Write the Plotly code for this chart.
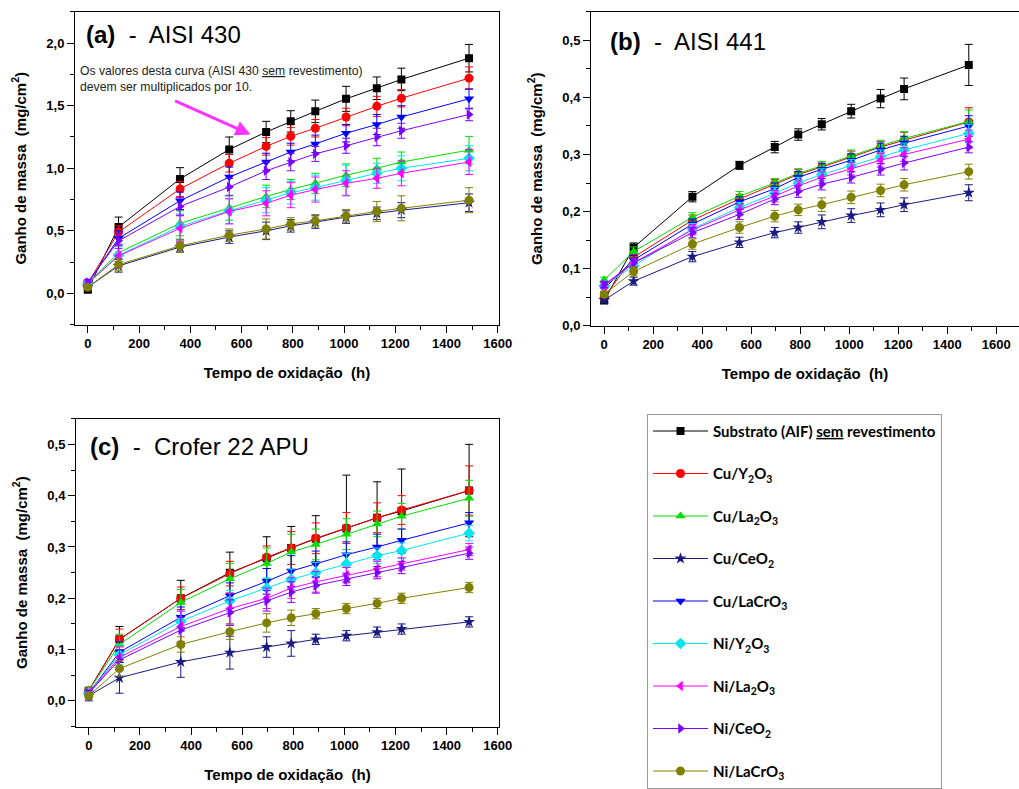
import plotly.graph_objects as go

W, H = 1019, 789

# ---------------- data ----------------
times = [0, 120, 360, 552, 696, 792, 888, 1008, 1128, 1224, 1488]

series_names = [
    "Substrato (AIF) <u>sem</u> revestimento",
    "Cu/Y<sub>2</sub>O<sub>3</sub>",
    "Cu/La<sub>2</sub>O<sub>3</sub>",
    "Cu/CeO<sub>2</sub>",
    "Cu/LaCrO<sub>3</sub>",
    "Ni/Y<sub>2</sub>O<sub>3</sub>",
    "Ni/La<sub>2</sub>O<sub>3</sub>",
    "Ni/CeO<sub>2</sub>",
    "Ni/LaCrO<sub>3</sub>",
]

# Panel (a) AISI 430
gain_a = [
    [0.03, 0.53, 0.915, 1.15, 1.29, 1.375, 1.455, 1.555, 1.64, 1.71, 1.88],
    [0.08, 0.49, 0.835, 1.04, 1.175, 1.255, 1.32, 1.41, 1.495, 1.56, 1.72],
    [0.08, 0.325, 0.56, 0.685, 0.775, 0.83, 0.88, 0.945, 1.00, 1.05, 1.145],
    [0.05, 0.22, 0.37, 0.45, 0.50, 0.54, 0.57, 0.61, 0.64, 0.665, 0.725],
    [0.08, 0.44, 0.74, 0.93, 1.05, 1.13, 1.195, 1.28, 1.35, 1.41, 1.555],
    [0.08, 0.305, 0.535, 0.66, 0.745, 0.805, 0.845, 0.905, 0.96, 1.00, 1.08],
    [0.08, 0.30, 0.52, 0.655, 0.72, 0.785, 0.83, 0.88, 0.92, 0.96, 1.05],
    [0.09, 0.42, 0.695, 0.85, 0.98, 1.05, 1.115, 1.18, 1.25, 1.30, 1.43],
    [0.05, 0.23, 0.38, 0.465, 0.515, 0.555, 0.58, 0.62, 0.655, 0.68, 0.745],
]
err_a = [
    [0.02, 0.08, 0.09, 0.10, 0.085, 0.085, 0.09, 0.10, 0.09, 0.09, 0.11],
    [0.02, 0.05, 0.06, 0.07, 0.07, 0.07, 0.07, 0.07, 0.08, 0.07, 0.09],
    [0.02, 0.07, 0.10, 0.10, 0.09, 0.08, 0.08, 0.09, 0.08, 0.08, 0.11],
    [0.02, 0.05, 0.04, 0.05, 0.07, 0.05, 0.05, 0.05, 0.05, 0.06, 0.07],
    [0.02, 0.06, 0.07, 0.08, 0.07, 0.07, 0.07, 0.07, 0.08, 0.09, 0.08],
    [0.02, 0.07, 0.10, 0.10, 0.10, 0.09, 0.10, 0.12, 0.08, 0.10, 0.10],
    [0.02, 0.09, 0.10, 0.10, 0.10, 0.10, 0.10, 0.10, 0.08, 0.10, 0.10],
    [0.02, 0.06, 0.07, 0.07, 0.07, 0.07, 0.06, 0.06, 0.07, 0.06, 0.05],
    [0.02, 0.05, 0.05, 0.05, 0.08, 0.05, 0.05, 0.05, 0.08, 0.10, 0.10],
]

# Panel (b) AISI 441
gain_b = [
    [0.044, 0.137, 0.226, 0.281, 0.313, 0.335, 0.353, 0.376, 0.398, 0.415, 0.457],
    [0.050, 0.120, 0.185, 0.222, 0.248, 0.265, 0.278, 0.296, 0.313, 0.325, 0.357],
    [0.080, 0.130, 0.190, 0.227, 0.250, 0.267, 0.280, 0.298, 0.315, 0.328, 0.358],
    [0.045, 0.078, 0.121, 0.146, 0.163, 0.172, 0.182, 0.193, 0.203, 0.212, 0.233],
    [0.065, 0.115, 0.178, 0.217, 0.240, 0.260, 0.274, 0.290, 0.308, 0.320, 0.350],
    [0.070, 0.105, 0.170, 0.207, 0.232, 0.250, 0.265, 0.280, 0.296, 0.308, 0.337],
    [0.070, 0.110, 0.168, 0.203, 0.227, 0.245, 0.260, 0.275, 0.290, 0.300, 0.327],
    [0.072, 0.110, 0.163, 0.195, 0.222, 0.235, 0.248, 0.260, 0.274, 0.285, 0.313],
    [0.055, 0.095, 0.143, 0.172, 0.192, 0.203, 0.212, 0.225, 0.237, 0.247, 0.270],
]
err_b = [
    [0.005, 0.008, 0.009, 0.007, 0.010, 0.010, 0.010, 0.012, 0.016, 0.019, 0.036],
    [0.005, 0.008, 0.009, 0.008, 0.008, 0.009, 0.009, 0.010, 0.010, 0.014, 0.025],
    [0.005, 0.008, 0.008, 0.008, 0.008, 0.008, 0.008, 0.010, 0.010, 0.012, 0.020],
    [0.004, 0.007, 0.009, 0.009, 0.009, 0.010, 0.012, 0.012, 0.012, 0.012, 0.014],
    [0.005, 0.008, 0.009, 0.009, 0.010, 0.010, 0.010, 0.011, 0.012, 0.012, 0.018],
    [0.005, 0.008, 0.009, 0.009, 0.010, 0.010, 0.010, 0.011, 0.012, 0.012, 0.016],
    [0.005, 0.008, 0.009, 0.009, 0.010, 0.010, 0.010, 0.011, 0.012, 0.012, 0.016],
    [0.005, 0.008, 0.009, 0.009, 0.010, 0.010, 0.010, 0.010, 0.010, 0.012, 0.010],
    [0.005, 0.008, 0.009, 0.010, 0.010, 0.010, 0.012, 0.011, 0.011, 0.011, 0.013],
]

# Panel (c) Crofer 22 APU
gain_c = [
    [0.020, 0.120, 0.200, 0.250, 0.278, 0.298, 0.316, 0.336, 0.357, 0.370, 0.410],
    [0.020, 0.120, 0.200, 0.248, 0.280, 0.298, 0.317, 0.337, 0.357, 0.372, 0.410],
    [0.020, 0.110, 0.192, 0.238, 0.268, 0.290, 0.305, 0.325, 0.345, 0.360, 0.395],
    [0.010, 0.045, 0.076, 0.094, 0.105, 0.112, 0.120, 0.127, 0.134, 0.140, 0.154],
    [0.015, 0.095, 0.163, 0.205, 0.233, 0.253, 0.267, 0.285, 0.300, 0.313, 0.347],
    [0.015, 0.090, 0.155, 0.195, 0.220, 0.237, 0.250, 0.267, 0.283, 0.293, 0.327],
    [0.015, 0.085, 0.145, 0.180, 0.200, 0.220, 0.232, 0.245, 0.257, 0.267, 0.295],
    [0.015, 0.080, 0.138, 0.172, 0.195, 0.212, 0.225, 0.237, 0.250, 0.260, 0.288],
    [0.010, 0.063, 0.110, 0.135, 0.152, 0.162, 0.170, 0.180, 0.190, 0.200, 0.221],
]
err_c = [
    [0.005, 0.025, 0.035, 0.040, 0.042, 0.042, 0.045, 0.104, 0.070, 0.082, 0.090],
    [0.005, 0.020, 0.022, 0.024, 0.022, 0.032, 0.030, 0.030, 0.029, 0.028, 0.048],
    [0.005, 0.020, 0.025, 0.030, 0.030, 0.035, 0.030, 0.030, 0.025, 0.025, 0.035],
    [0.010, 0.030, 0.030, 0.032, 0.020, 0.025, 0.010, 0.010, 0.010, 0.010, 0.010],
    [0.005, 0.020, 0.020, 0.025, 0.025, 0.030, 0.025, 0.025, 0.025, 0.022, 0.020],
    [0.005, 0.020, 0.020, 0.020, 0.020, 0.020, 0.020, 0.020, 0.015, 0.015, 0.015],
    [0.005, 0.020, 0.030, 0.030, 0.020, 0.020, 0.020, 0.015, 0.015, 0.012, 0.012],
    [0.005, 0.020, 0.025, 0.025, 0.020, 0.020, 0.015, 0.012, 0.012, 0.012, 0.012],
    [0.005, 0.015, 0.015, 0.015, 0.018, 0.015, 0.010, 0.010, 0.010, 0.010, 0.010],
]

# ---------------- styles ----------------
colors = ["#000000", "#ff0000", "#00dd00", "#1a1a80", "#0000ff",
          "#00e5ee", "#ff00ff", "#7f00ff", "#808000"]
symbols = ["square", "circle", "triangle-up", "star", "triangle-down",
           "diamond", "triangle-left", "triangle-right", "circle"]
msizes = [8, 9, 9, 9, 9, 9, 9, 9, 9]

fig = go.Figure()

panels = [(gain_a, err_a, "x", "y"), (gain_b, err_b, "x2", "y2"), (gain_c, err_c, "x3", "y3")]
for p, (gains, errs, xa, ya) in enumerate(panels):
    for i, name in enumerate(series_names):
        fig.add_trace(go.Scatter(
            x=times, y=gains[i], xaxis=xa, yaxis=ya,
            mode="lines+markers", name=name,
            legendgroup="g%d" % i, showlegend=(p == 0),
            line=dict(color=colors[i], width=1),
            marker=dict(symbol=symbols[i], color=colors[i], size=msizes[i], line=dict(width=0)),
            error_y=dict(type="data", array=errs[i], color=colors[i], thickness=1, width=4),
        ))

def px_x(a, b):
    return [a / W, b / W]

def px_y(top, bottom):
    return [1 - bottom / H, 1 - top / H]

tickfont = dict(family="Liberation Sans", size=13, color="black", weight="bold")
titlefont = dict(family="Liberation Sans", size=15, color="black", weight="bold")

def xaxis(domain, rng, anchor):
    return dict(domain=domain, range=rng, anchor=anchor, automargin=False,
                tickvals=list(range(0, 1601, 200)),
                ticks="outside", ticklen=7, tickwidth=1, tickcolor="black",
                minor=dict(ticks="outside", ticklen=4, tickwidth=1, tickcolor="black", dtick=100, tick0=0),
                showline=True, linecolor="black", linewidth=1, mirror=True,
                showgrid=False, zeroline=False, tickfont=tickfont,
                title=dict(text="Tempo de oxidação  (h)", font=titlefont, standoff=17))

def yaxis(domain, rng, anchor, dtick, minor_dtick, top):
    return dict(domain=domain, range=rng, anchor=anchor, automargin=False,
                tickformat=".1f", ticks="outside", ticklen=7, tickwidth=1, tickcolor="black",
                minor=dict(ticks="outside", ticklen=4, tickwidth=1, tickcolor="black", dtick=minor_dtick, tick0=0),
                showline=True, linecolor="black", linewidth=1, mirror=True,
                showgrid=False, zeroline=False, tickfont=tickfont,
                tickvals=[round(k * dtick, 2) for k in range(0, int(round(top / dtick)) + 1)],
                title=dict(text="Ganho de massa  (mg/cm<sup>2</sup>)", font=titlefont, standoff=16))

fig.update_layout(
    template="none",
    width=W, height=H,
    margin=dict(l=0, r=0, t=0, b=0),
    paper_bgcolor="white", plot_bgcolor="white",
    separators=", ",
    font=dict(family="Liberation Sans", color="black"),
    xaxis=xaxis(px_x(75, 499), [-50, 1605], "y"),
    yaxis=yaxis(px_y(12, 328), [-0.25, 2.25], "x", 0.5, 0.25, 2.0),
    xaxis2=xaxis(px_x(591, 1019), [-54, 1693], "y2"),
    yaxis2=yaxis(px_y(12, 329), [0, 0.55], "x2", 0.1, 0.05, 0.5),
    xaxis3=xaxis(px_x(76, 499), [-50, 1605], "y3"),
    yaxis3=yaxis(px_y(423, 734), [-0.05, 0.55], "x3", 0.1, 0.05, 0.5),
    legend=dict(x=647 / W, y=1 - 418 / H, xanchor="left", yanchor="top",
                bgcolor="white", bordercolor="#9a9a9a", borderwidth=1,
                font=dict(family="Lato", size=15, color="black", weight="bold"),
                traceorder="grouped", tracegroupgap=20, itemwidth=55),
    showlegend=True,
)

panel_font = dict(family="Liberation Sans", size=24, color="black")
fig.add_annotation(xref="paper", yref="paper", x=84 / W, y=1 - 35 / H, xanchor="left", yanchor="middle",
                   text="<b>(a)</b>  -  AISI 430", showarrow=False, font=panel_font)
fig.add_annotation(xref="paper", yref="paper", x=608 / W, y=1 - 42 / H, xanchor="left", yanchor="middle",
                   text="<b>(b)</b>  -  AISI 441", showarrow=False, font=panel_font)
fig.add_annotation(xref="paper", yref="paper", x=88 / W, y=1 - 451 / H, xanchor="left", yanchor="middle",
                   text="<b>(c)</b>  -  Crofer 22 APU", showarrow=False, font=panel_font)

fig.add_annotation(xref="paper", yref="paper", x=78 / W, y=1 - 80 / H, xanchor="left", yanchor="middle",
                   text="Os valores desta curva (AISI 430 <u>sem</u> revestimento)<br>devem ser multiplicados por 10.",
                   showarrow=False, align="left",
                   font=dict(family="Liberation Sans", size=12.2, color="#222222"))

fig.add_annotation(xref="x", yref="y", x=635, y=1.27, axref="x", ayref="y", ax=335, ay=1.545,
                   text="", showarrow=True, arrowhead=2, arrowsize=1, arrowwidth=3,
                   arrowcolor="#ff33ff")

fig.write_html("out.html", config={"displayModeBar": False},
               post_script="document.body.style.margin='0';document.body.style.overflow='hidden';")
